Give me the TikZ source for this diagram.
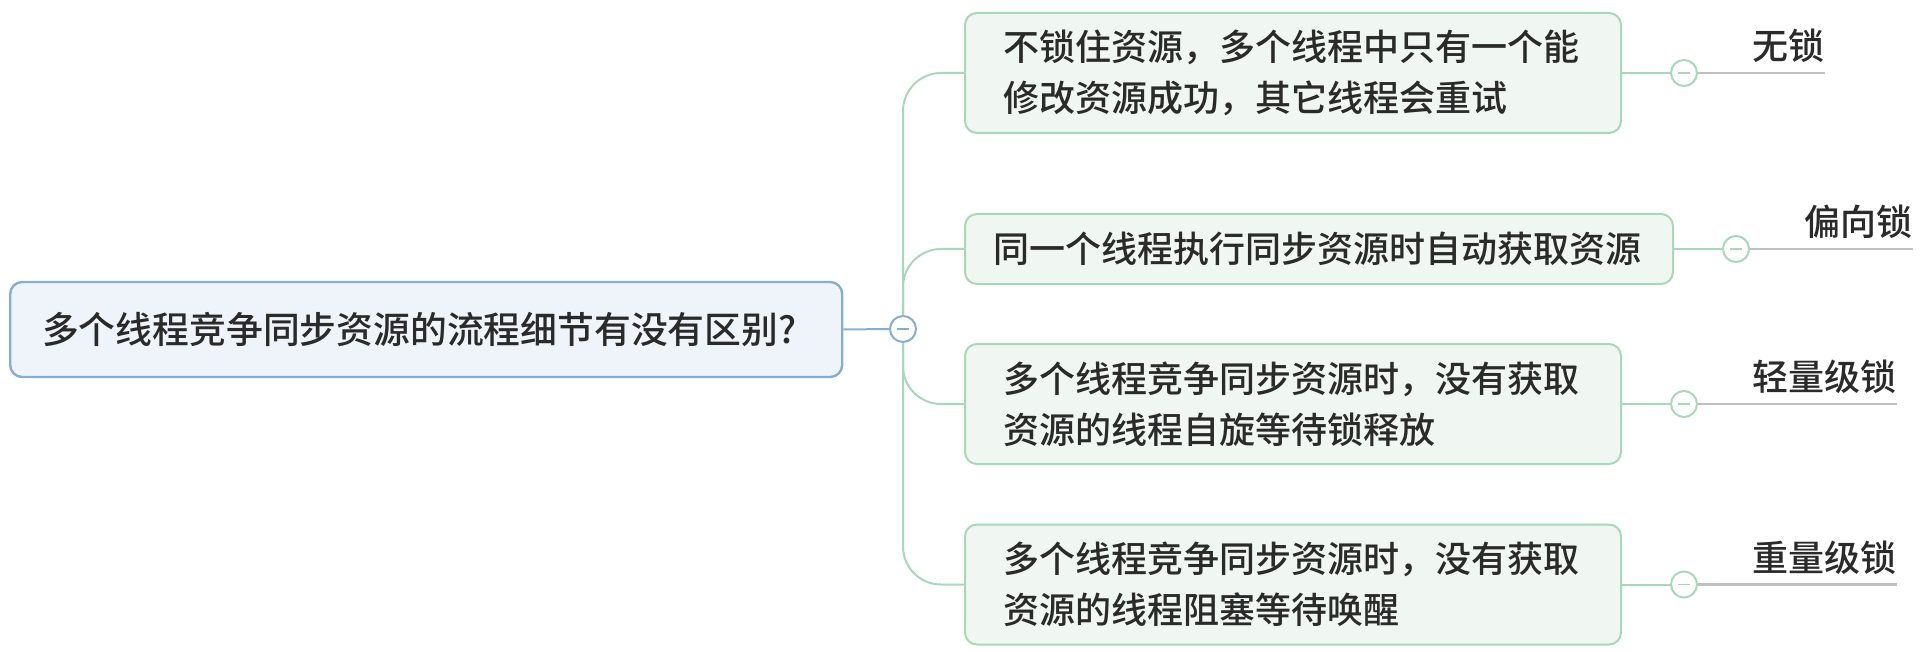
\documentclass[tikz,border=0pt]{standalone}
\usepackage{fontspec}
\setmainfont{Noto Sans CJK SC}[BoldFont={Noto Sans CJK SC Medium}]
\usepackage{xcolor}
\usepackage{tikz}
\usetikzlibrary{positioning}

\definecolor{rootline}{HTML}{85AED6}
\definecolor{rootfill}{HTML}{EFF4FA}
\definecolor{leafline}{HTML}{A9D7B9}
\definecolor{leaffill}{HTML}{F0F7F2}
\definecolor{greyline}{HTML}{C0C0C0}
\definecolor{txt}{HTML}{2A2A2A}

\begin{document}
\begin{tikzpicture}[x=0.5pt, y=-0.5pt,
    rootbox/.style={draw=rootline, fill=rootfill, line width=1.2pt, rounded corners=6pt,
        text=txt, font=\fontsize{18.4pt}{25.5pt}\selectfont\bfseries, align=left,
        text width=384pt, inner xsep=16pt, minimum height=47.5pt, anchor=west},
    leafbox/.style={draw=leafline, fill=leaffill, line width=1pt, rounded corners=6pt,
        text=txt, font=\fontsize{18pt}{25.5pt}\selectfont\bfseries, align=left,
        text width=290pt, inner xsep=19pt, minimum height=60pt, anchor=west},
    dot/.style={circle, draw=#1, fill=white, line width=1pt, minimum size=13pt, inner sep=0pt,
        path picture={\draw[#1, line width=0.6pt]
            ([xshift=-3pt]path picture bounding box.center) -- ([xshift=3pt]path picture bounding box.center);}},
    branch/.style={draw=leafline, line width=1pt},
    tagtext/.style={text=txt, font=\fontsize{18pt}{22pt}\selectfont\bfseries, inner sep=0pt},
    tagline/.style={draw=greyline, line width=1.3pt}]
    \useasboundingbox (0,0) rectangle (1921,652);

    % 1. Chủ đề chính
    \node[rootbox] (root) at (9,329.5) {多个线程竞争同步资源的流程细节有没有区别?};
    \node[dot=rootline] (hub) at (903,329) {};
    \draw[draw=rootline, line width=1pt] (root.east) -- (hub.west);

    % 2. Các nhánh con
    \node[leafbox] (n1) at (964,73) {不锁住资源，多个线程中只有一个能\\修改资源成功，其它线程会重试};
    \node[leafbox, text width=326pt, inner xsep=14pt, minimum height=35pt] (n2) at (964,249)
        {同一个线程执行同步资源时自动获取资源};
    \node[leafbox] (n3) at (964,404) {多个线程竞争同步资源时，没有获取\\资源的线程自旋等待锁释放};
    \node[leafbox] (n4) at (964,584.5) {多个线程竞争同步资源时，没有获取\\资源的线程阻塞等待唤醒};

    \draw[branch, rounded corners=19pt] (hub.north) |- (n1.west);
    \draw[branch, rounded corners=19pt] (hub.north) |- (n2.west);
    \draw[branch, rounded corners=19pt] (hub.south) |- (n3.west);
    \draw[branch, rounded corners=19pt] (hub.south) |- (n4.west);

    % 3. Nhãn loại khóa
    \foreach \i/\tag in {1/无锁, 2/偏向锁, 3/轻量级锁, 4/重量级锁} {
        \node[dot=leafline, right=24pt of n\i] (d\i) {};
        \draw[branch] (n\i.east) -- (d\i.west);
        \node[tagtext, above right=0pt and 29pt of d\i] (t\i) {\tag};
        \draw[tagline] (d\i.east) -- (d\i.east -| t\i.east);
    }
\end{tikzpicture}
\end{document}
